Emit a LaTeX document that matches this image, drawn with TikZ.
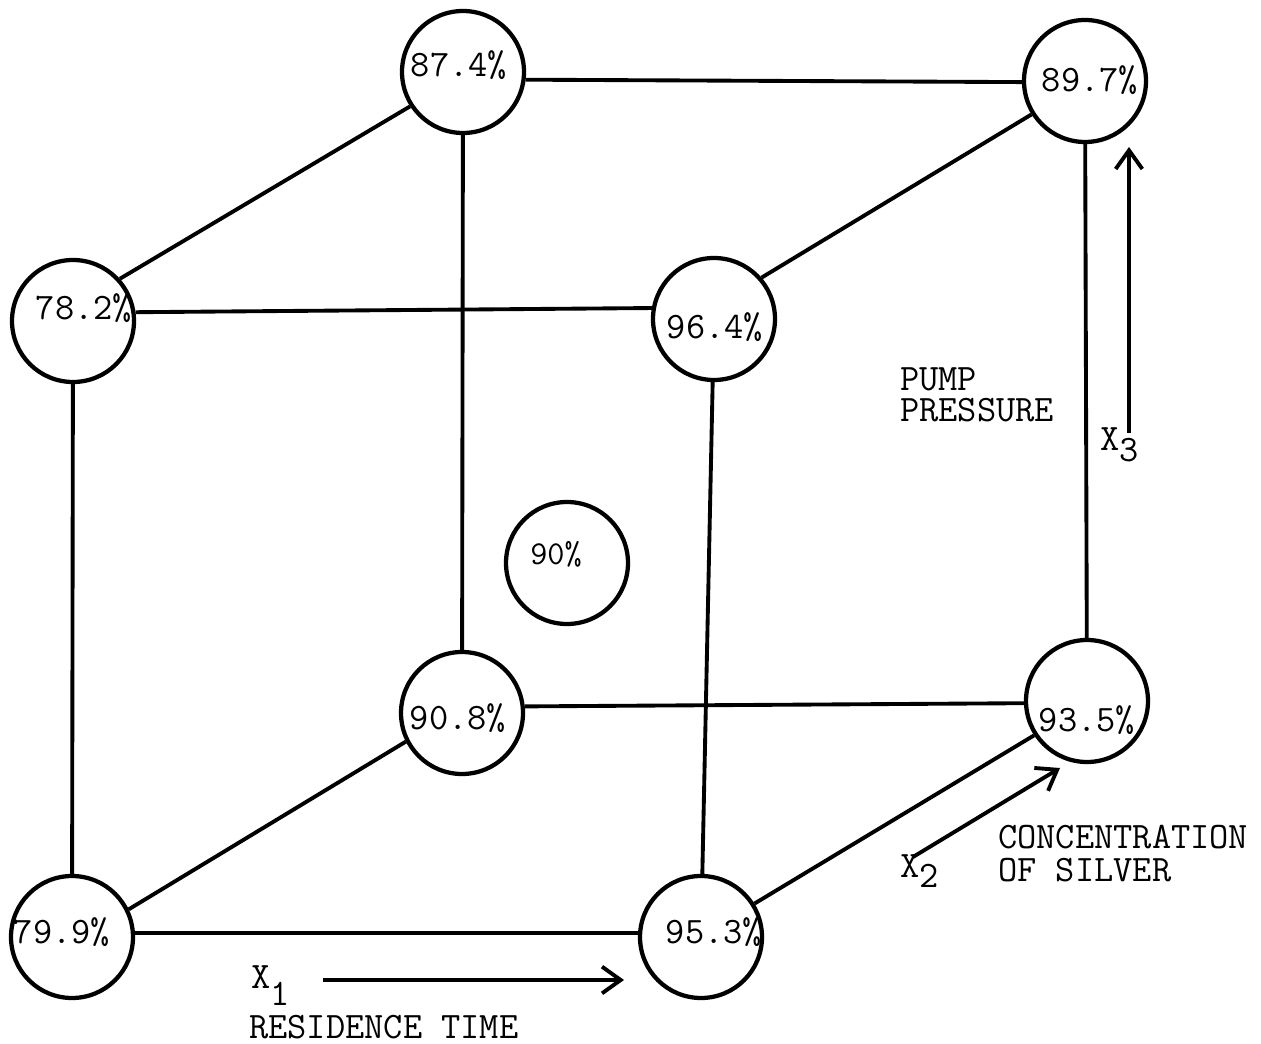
\documentclass[tikz,border=0pt]{standalone}
\usepackage{fontspec}
\usetikzlibrary{arrows.meta}
\newcommand\lowsub[2]{\raisebox{-#1}{#2}}
\begin{document}
\begin{tikzpicture}[x=0.75pt,y=-0.75pt,
  ring/.style={circle,draw,line width=3.2pt,minimum size=91.5pt,inner sep=0pt},
  val/.style={inner sep=0pt,font=\ttfamily\fontsize{28}{29}\selectfont},
  smallval/.style={inner sep=0pt,font=\ttfamily\fontsize{25}{27}\selectfont},
  edge/.style={line width=2.9pt},
  axis/.style={line width=2.9pt,-{Straight Barb[length=14pt,width=20pt,line width=2.9pt]}},
  lbl/.style={inner sep=0pt,align=left,font=\ttfamily\fontsize{28}{24}\selectfont}]
\useasboundingbox (0,0) rectangle (1261,1044);
% corners
\node[ring] (A) at (463,72) {};
\node[ring] (B) at (1085,81) {};
\node[ring] (C) at (73,321) {};
\node[ring] (D) at (714,319) {};
\node[ring] (E) at (567,563) {};
\node[ring] (F) at (462,713) {};
\node[ring] (G) at (1087,701) {};
\node[ring] (H) at (72,937) {};
\node[ring] (I) at (701,937) {};
% values
\node[val] (tA) at (459,65) {87.4\%};
\node[val] (tB) at (1090,80) {89.7\%};
\node[val] (tC) at (84,308) {78.2\%};
\node[val] (tD) at (715,327) {96.4\%};
\node[smallval] (tE) at (556,554) {90\%};
\node[val] (tF) at (458,718) {90.8\%};
\node[val] (tG) at (1087,720) {93.5\%};
\node[val] (tH) at (62,932) {79.9\%};
\node[val] (tI) at (714,932) {95.3\%};
% edges
\draw[edge] (A.-7) -- (B.181);
\draw[edge] (C.42) -- (A.213);
\draw[edge] (D.41) -- (B.212);
\draw[edge] (C.8) -- (D.170);
\draw[edge] (A) -- (F);
\draw[edge] (B) -- (G);
\draw[edge] (C) -- (H);
\draw[edge] (D) -- (I);
\draw[edge] (F.6) -- (G.182);
\draw[edge] (H.26) -- (F.207);
\draw[edge] (H.4) -- (I.176);
\draw[edge] (I.32) -- (G.213);
% axes
\coordinate (x1s) at (323,980);
\coordinate (x1e) at (624,980);
\coordinate (x2s) at (913,857);
\coordinate (x2e) at (1060,768);
\coordinate (x3s) at (1129,433);
\coordinate (x3e) at (1129,147);
\draw[axis] (x1s) -- (x1e);
\draw[axis] (x2s) -- (x2e);
\draw[axis] (x3s) -- (x3e);
\node[val,anchor=base west] (lx1) at (251,988) {X\lowsub{13pt}{1}};
\node[val,anchor=base west] (lx2) at (900,877) {X\lowsub{8pt}{2}};
\node[val,anchor=base west] (lx3) at (1100,451) {X\lowsub{8pt}{3}};
\node[lbl,anchor=west] (res) at (249,1027) {RESIDENCE TIME};
\node[lbl,anchor=north west] (pump1) at (900,367) {PUMP};
\node[lbl,anchor=north west] (pump2) at (900,398) {PRESSURE};
\node[lbl,anchor=north west] (conc1) at (998,825) {CONCENTRATION};
\node[lbl,anchor=north west] (conc2) at (998,858) {OF SILVER};
\end{tikzpicture}
\end{document}
